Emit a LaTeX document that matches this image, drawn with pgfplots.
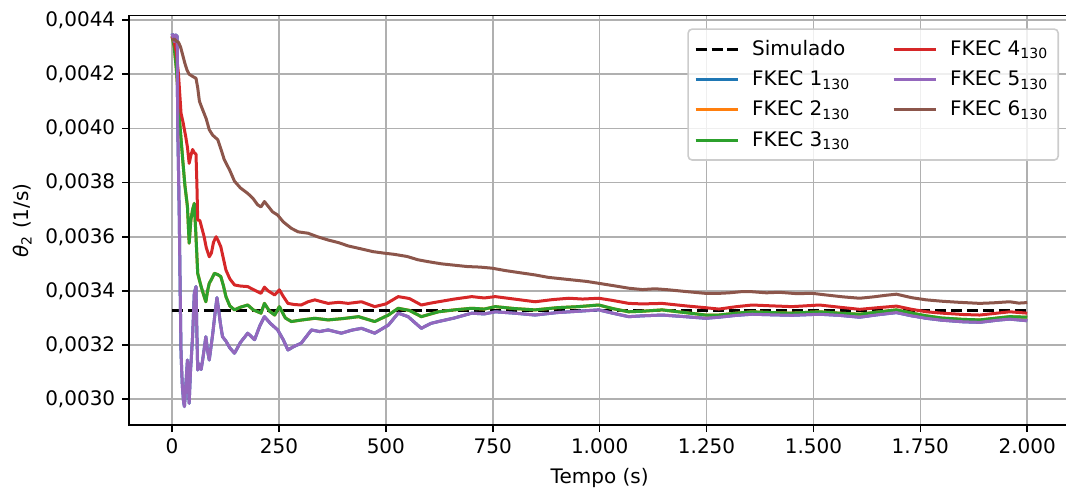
\documentclass[border=0pt]{standalone}
\usepackage{fontspec}
\setmainfont{DejaVu Sans}
\usepackage{pgfplots}
\pgfplotsset{compat=1.18}
\usepackage{pgfplotstable}

\definecolor{cblue}{HTML}{1F77B4}
\definecolor{corange}{HTML}{FF7F0E}
\definecolor{cgreen}{HTML}{2CA02C}
\definecolor{cred}{HTML}{D62728}
\definecolor{cpurple}{HTML}{9467BD}
\definecolor{cbrown}{HTML}{8C564B}
\definecolor{gridgray}{HTML}{B0B0B0}
\definecolor{legendgray}{HTML}{CCCCCC}

% theta_2 estimates (1/s) versus time (s)
\pgfplotstableread{
t v
0 0.004350
5 0.004320
8 0.004345
12 0.004340
13 0.004031
15 0.003850
17 0.003662
19 0.003400
21 0.003170
24 0.003050
27 0.002990
29 0.002973
32 0.003050
36 0.003145
38 0.003060
40 0.002985
43 0.003100
48 0.003231
52 0.003391
56 0.003416
58 0.003250
60 0.003108
64 0.003130
68 0.003110
72 0.003150
79 0.003231
83 0.003180
87 0.003145
95 0.003240
100 0.003310
105 0.003375
109 0.003330
113 0.003280
118 0.003231
126 0.003215
135 0.003190
146 0.003170
160 0.003210
177 0.003244
193 0.003220
205 0.003270
216 0.003305
230 0.003280
247 0.003256
260 0.003220
271 0.003182
285 0.003195
302 0.003207
326 0.003256
345 0.003250
365 0.003256
396 0.003244
420 0.003255
443 0.003262
474 0.003244
506 0.003274
529 0.003318
552 0.003305
583 0.003262
605 0.003280
623 0.003287
660 0.003300
701 0.003318
730 0.003315
756 0.003323
800 0.003318
849 0.003311
900 0.003320
950 0.003325
998 0.003330
1030 0.003318
1068 0.003305
1100 0.003308
1146 0.003311
1200 0.003305
1248 0.003299
1279 0.003303
1320 0.003310
1357 0.003314
1400 0.003312
1450 0.003310
1514 0.003314
1560 0.003310
1608 0.003303
1650 0.003312
1694 0.003320
1730 0.003308
1764 0.003299
1800 0.003292
1850 0.003286
1889 0.003284
1930 0.003292
1959 0.003296
2000 0.003290
}\fkecfive

\pgfplotstableread{
t v
0 0.004340
5 0.004300
10 0.004220
13 0.004154
18 0.004020
25 0.003883
30 0.003790
36 0.003711
40 0.003576
44 0.003662
48 0.003700
52 0.003723
56 0.003600
60 0.003465
64 0.003440
68 0.003416
73 0.003390
79 0.003360
83 0.003400
87 0.003428
93 0.003445
99 0.003465
107 0.003460
114 0.003453
120 0.003420
126 0.003379
135 0.003345
146 0.003330
160 0.003340
177 0.003348
190 0.003330
208 0.003318
216 0.003354
228 0.003325
240 0.003311
251 0.003342
265 0.003300
279 0.003287
300 0.003292
334 0.003299
365 0.003293
400 0.003298
436 0.003305
474 0.003287
506 0.003311
529 0.003336
555 0.003328
583 0.003305
605 0.003315
623 0.003323
660 0.003330
701 0.003336
730 0.003333
756 0.003342
800 0.003335
849 0.003330
900 0.003338
950 0.003342
998 0.003348
1030 0.003335
1068 0.003323
1100 0.003325
1146 0.003330
1200 0.003320
1248 0.003311
1279 0.003311
1320 0.003318
1357 0.003323
1400 0.003320
1450 0.003318
1514 0.003323
1560 0.003318
1608 0.003314
1650 0.003322
1694 0.003330
1730 0.003318
1764 0.003308
1800 0.003300
1850 0.003295
1889 0.003293
1930 0.003300
1959 0.003305
2000 0.003303
}\fkecthree

\pgfplotstableread{
t v
0 0.004340
5 0.004320
10 0.004280
15 0.004200
21 0.004056
26 0.004020
32 0.003969
36 0.003930
40 0.003871
44 0.003900
48 0.003922
52 0.003910
56 0.003905
58 0.003800
60 0.003662
65 0.003660
70 0.003630
75 0.003600
80 0.003560
87 0.003526
92 0.003540
97 0.003580
103 0.003600
108 0.003585
114 0.003563
120 0.003520
126 0.003477
135 0.003445
146 0.003422
160 0.003418
177 0.003416
190 0.003405
208 0.003391
216 0.003414
225 0.003400
240 0.003385
251 0.003404
260 0.003380
271 0.003354
285 0.003350
302 0.003348
318 0.003360
334 0.003367
350 0.003360
365 0.003354
390 0.003358
412 0.003354
443 0.003360
474 0.003342
500 0.003352
529 0.003379
555 0.003372
583 0.003348
605 0.003355
623 0.003360
660 0.003370
701 0.003379
730 0.003374
756 0.003379
800 0.003370
849 0.003360
890 0.003368
928 0.003373
960 0.003370
998 0.003373
1030 0.003365
1068 0.003354
1100 0.003352
1146 0.003354
1200 0.003345
1248 0.003338
1279 0.003333
1320 0.003342
1357 0.003348
1400 0.003345
1450 0.003342
1514 0.003348
1560 0.003340
1608 0.003332
1650 0.003338
1694 0.003344
1730 0.003332
1764 0.003323
1800 0.003318
1850 0.003313
1889 0.003311
1930 0.003318
1959 0.003323
2000 0.003318
}\fkecfour

\pgfplotstableread{
t v
0 0.004325
5 0.004330
10 0.004322
15 0.004318
20 0.004300
25 0.004270
30 0.004240
35 0.004215
40 0.004200
50 0.004190
56 0.004185
60 0.004150
64 0.004100
70 0.004075
80 0.004035
87 0.003995
95 0.003975
107 0.003958
115 0.003920
122 0.003885
135 0.003845
146 0.003805
160 0.003780
177 0.003760
190 0.003740
200 0.003718
208 0.003710
216 0.003730
225 0.003712
235 0.003692
247 0.003680
260 0.003655
279 0.003631
295 0.003618
318 0.003613
340 0.003600
365 0.003588
390 0.003578
412 0.003566
440 0.003556
470 0.003545
498 0.003539
520 0.003535
550 0.003527
575 0.003515
599 0.003508
630 0.003500
660 0.003495
690 0.003490
720 0.003488
748 0.003484
780 0.003475
810 0.003468
849 0.003459
880 0.003450
910 0.003445
940 0.003440
970 0.003435
998 0.003428
1030 0.003420
1068 0.003410
1100 0.003405
1130 0.003408
1162 0.003404
1200 0.003398
1248 0.003391
1279 0.003391
1303 0.003393
1330 0.003397
1357 0.003397
1390 0.003393
1420 0.003395
1460 0.003390
1498 0.003391
1530 0.003385
1570 0.003378
1608 0.003373
1640 0.003378
1670 0.003384
1694 0.003388
1730 0.003375
1764 0.003367
1800 0.003362
1840 0.003358
1889 0.003354
1920 0.003356
1959 0.003360
1980 0.003355
2000 0.003357
}\fkecsix

\begin{document}
\begin{tikzpicture}
\begin{axis}[
  scale only axis,
  width=470.35pt, height=204.65pt,
  xmin=-100, xmax=2100,
  ymin=0.0029051, ymax=0.0044159,
  xtick={0,250,500,750,1000,1250,1500,1750,2000},
  ytick={0.0030,0.0032,0.0034,0.0036,0.0038,0.0040,0.0042,0.0044},
  scaled y ticks=false,
  scaled x ticks=false,
  grid=major,
  major grid style={color=gridgray, line width=0.8pt},
  axis line style={line width=0.8pt},
  tick align=outside, tick pos=left,
  major tick length=3.5pt,
  every tick/.style={black, line width=0.8pt},
  /pgf/number format/assume math mode=true,
  yticklabel style={/pgf/number format/.cd, fixed, fixed zerofill, precision=4, use comma},
  xticklabel style={/pgf/number format/.cd, 1000 sep={.}},
  xlabel={Tempo (s)},
  ylabel={{\itshape θ}\textsubscript{2} (1/s)},
  legend columns=2,
  legend image code/.code={\draw[#1] (0pt,0pt) -- (21pt,0pt);},
  legend style={at={(rel axis cs:1,1)}, anchor=north east,
    xshift=-5.5pt, yshift=-6.3pt,
    draw=legendgray, line width=0.8pt, rounded corners=2pt,
    fill=white, fill opacity=0.8, text opacity=1,
    font=\fontsize{10}{12}\selectfont,
    inner xsep=3pt, inner ysep=3.5pt, row sep=2.2pt,
    cells={anchor=west},
    /tikz/every odd column/.append style={column sep=4.5pt},
    /tikz/every even column/.append style={column sep=19pt}},
  every axis plot/.append style={line width=1.5pt, line join=round},
]
\addplot[black, dash pattern=on 5.55pt off 2.4pt, forget plot] coordinates {(0,0.003329) (2000,0.003329)};
\addplot[cblue, forget plot] table[x=t, y=v] {\fkecfive};
\addplot[corange, forget plot] table[x=t, y=v] {\fkecthree};
\addplot[cgreen, forget plot] table[x=t, y=v] {\fkecthree};
\addplot[cred, forget plot] table[x=t, y=v] {\fkecfour};
\addplot[cpurple, forget plot] table[x=t, y=v] {\fkecfive};
\addplot[cbrown, forget plot] table[x=t, y=v] {\fkecsix};

\addlegendimage{black, line width=1.5pt, dash pattern=on 5.55pt off 2.4pt}
\addlegendentry{Simulado}
\addlegendimage{cred, line width=1.5pt}
\addlegendentry{FKEC 4\textsubscript{130}}
\addlegendimage{cblue, line width=1.5pt}
\addlegendentry{FKEC 1\textsubscript{130}}
\addlegendimage{cpurple, line width=1.5pt}
\addlegendentry{FKEC 5\textsubscript{130}}
\addlegendimage{corange, line width=1.5pt}
\addlegendentry{FKEC 2\textsubscript{130}}
\addlegendimage{cbrown, line width=1.5pt}
\addlegendentry{FKEC 6\textsubscript{130}}
\addlegendimage{cgreen, line width=1.5pt}
\addlegendentry{FKEC 3\textsubscript{130}}
\end{axis}
\pgfresetboundingbox
\path[use as bounding box] ([shift={(-64.65pt,-34pt)}]current axis.south west) rectangle ([shift={(468.35pt,212.5pt)}]current axis.south west);
\end{tikzpicture}
\end{document}
